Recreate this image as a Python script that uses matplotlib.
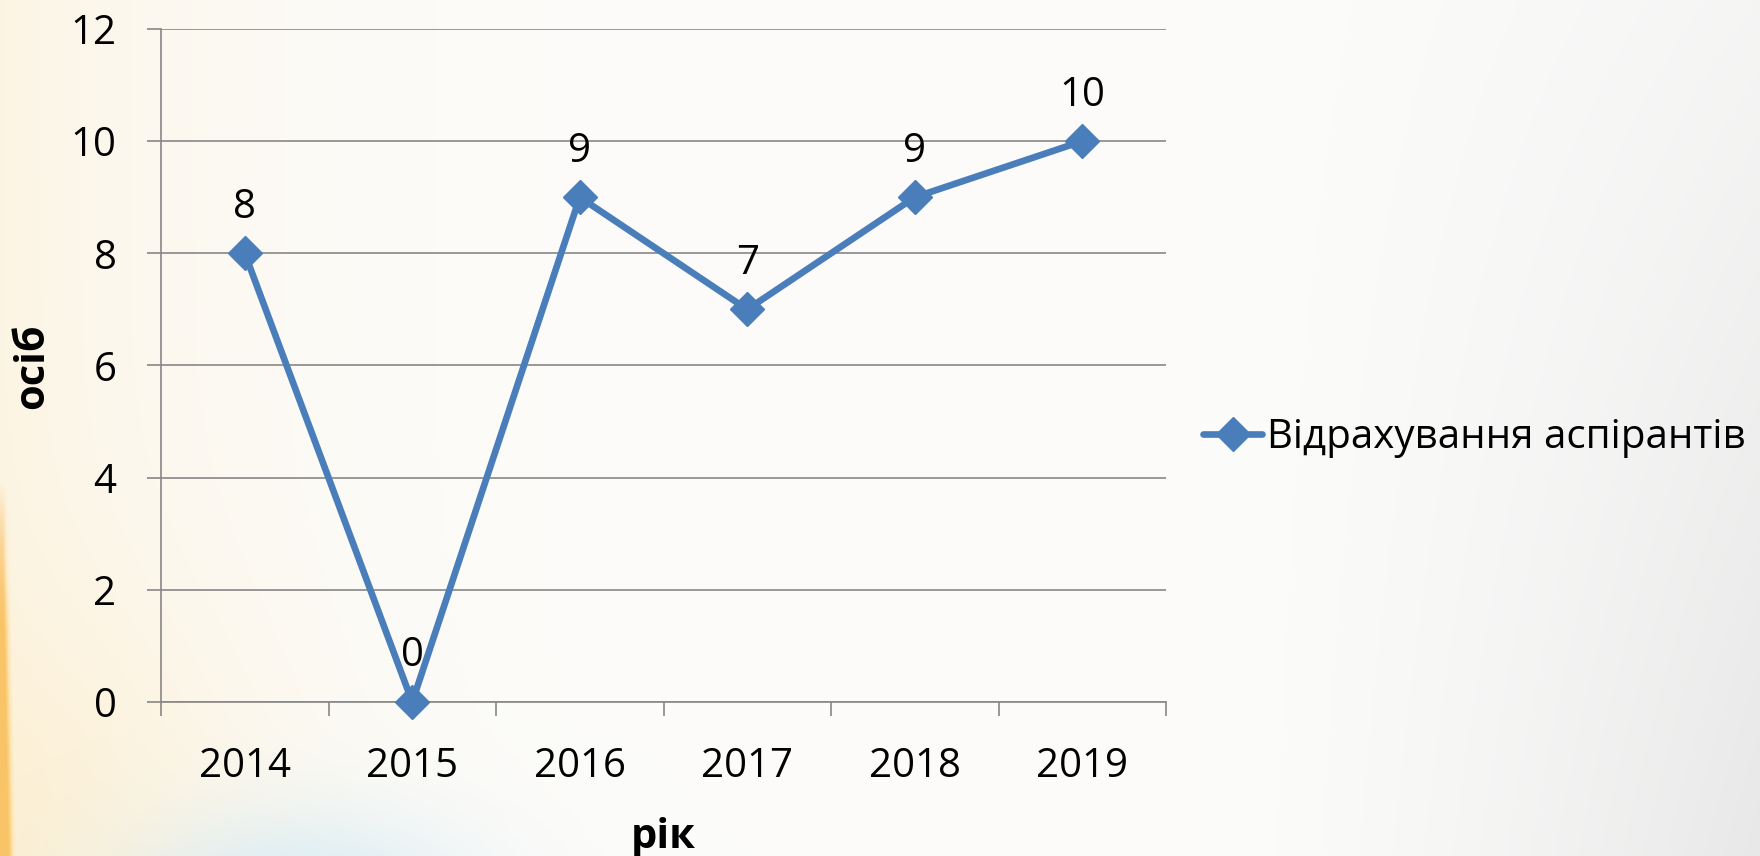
import numpy as np
import matplotlib
matplotlib.use("Agg")
import matplotlib.pyplot as plt

# ---- data ----
years = ["2014", "2015", "2016", "2017", "2018", "2019"]
values = [8, 0, 9, 7, 9, 10]
series_name = "Відрахування аспірантів"
y_ticks = [0, 2, 4, 6, 8, 10, 12]
x_label = "рік"
y_label = "осіб"

W, H = 1760, 856
plt.rcParams['font.family'] = ['Open Sans', 'DejaVu Sans']

fig = plt.figure(figsize=(W / 100, H / 100), dpi=100)

# ---- background decoration (slide gradient) ----
yy, xx = np.mgrid[0:H, 0:W].astype(float)
img = np.ones((H, W, 3)) * np.array([252, 252, 251]) / 255.0

def blend(img, color, w):
    c = np.array(color) / 255.0
    w = np.clip(w, 0, 1)[..., None]
    return img * (1 - w) + c * w

# grey towards the right / bottom-right
w_grey = np.clip((xx - 1200) / 560, 0, 1) ** 1.5 * (0.35 + 0.65 * yy / H)
img = blend(img, (232, 232, 232), w_grey)
# warm cream on the left
w_warm = np.exp(-xx / 220.0) * 0.8
img = blend(img, (253, 243, 222), w_warm)
# warm glow bottom-left
w_glow = np.exp(-(((xx - 0) / 240.0) ** 2 + ((yy - 856) / 240.0) ** 2)) * 0.6
img = blend(img, (252, 236, 200), w_glow)
# light blue bottom-left swoosh
w_blue = np.exp(-(((xx - 300) / 170.0) ** 2 + ((yy - 900) / 90.0) ** 2)) * 0.9
img = blend(img, (215, 235, 245), w_blue)
# orange/yellow edge swoosh
edge = 4 + 6 * np.clip((yy - 560) / 296, 0, 1)
w_or = np.clip((edge - xx) / 4.0 + 0.5, 0, 1) * np.clip((yy - 480) / 150, 0, 1)
img = blend(img, (246, 175, 80), w_or)
w_ye = np.clip((edge + 6 - xx) / 6.0, 0, 1) * np.clip((yy - 480) / 150, 0, 1) * 0.6
img = blend(img, (252, 210, 120), w_ye)

bg = fig.add_axes([0, 0, 1, 1], zorder=-10)
bg.imshow(img, aspect='auto', extent=[0, 1, 0, 1])
bg.axis('off')

# ---- main axes ----
L, R, T, B = 161, 1166, 29, 702
ax = fig.add_axes([L / W, 1 - B / H, (R - L) / W, (B - T) / H])
ax.patch.set_alpha(0)

color = '#4a7ebb'
grey = '#878787'
x = np.arange(len(years))
line, = ax.plot(x, values, color=color, lw=4.8, marker='D', ms=17,
                mec=color, mew=1.0, solid_joinstyle='round',
                solid_capstyle='round', label=series_name, zorder=3,
                clip_on=False)

for xi, v in zip(x, values):
    ax.annotate(str(v), (xi, v), xytext=(0, 33), textcoords='offset points',
                ha='center', va='center', fontsize=29, color='black', zorder=4)

ax.set_xlim(-0.5, len(years) - 0.5)
ax.set_ylim(0, 12)
ax.set_yticks(y_ticks)
ax.set_yticklabels([str(t) for t in y_ticks])
ax.yaxis.grid(True, color=grey, lw=1.2)
ax.set_axisbelow(True)

ax.set_xticks(x)
ax.set_xticklabels(years)
ax.set_xticks(np.arange(len(years) + 1) - 0.5, minor=True)
ax.tick_params(axis='x', which='major', length=0, pad=32, labelsize=29)
ax.tick_params(axis='x', which='minor', length=10, width=1.2, color=grey, direction='out')
ax.tick_params(axis='y', which='major', length=10, width=1.2, color=grey,
               direction='out', pad=22, labelsize=29)

for s in ['top', 'right']:
    ax.spines[s].set_visible(False)
for s in ['left', 'bottom']:
    ax.spines[s].set_color(grey)
    ax.spines[s].set_linewidth(1.2)

# axis titles
fig.text(663.5 / W, 1 - 848 / H, x_label, ha='center', va='baseline',
         fontsize=30, fontweight='bold')
fig.text(33 / W, 1 - 366 / H, y_label, ha='center', va='center',
         rotation=90, fontsize=30, fontweight='bold')

# legend
fs_leg = 29
px = fs_leg * 100 / 72
leg = fig.legend(handles=[line], loc='center left',
                 bbox_to_anchor=(1203 / W, 1 - 438 / H),
                 frameon=False, fontsize=fs_leg, borderpad=0, borderaxespad=0,
                 handlelength=59 / px, handletextpad=5 / px, markerscale=1.0)

fig.savefig('out.png', dpi=100)
